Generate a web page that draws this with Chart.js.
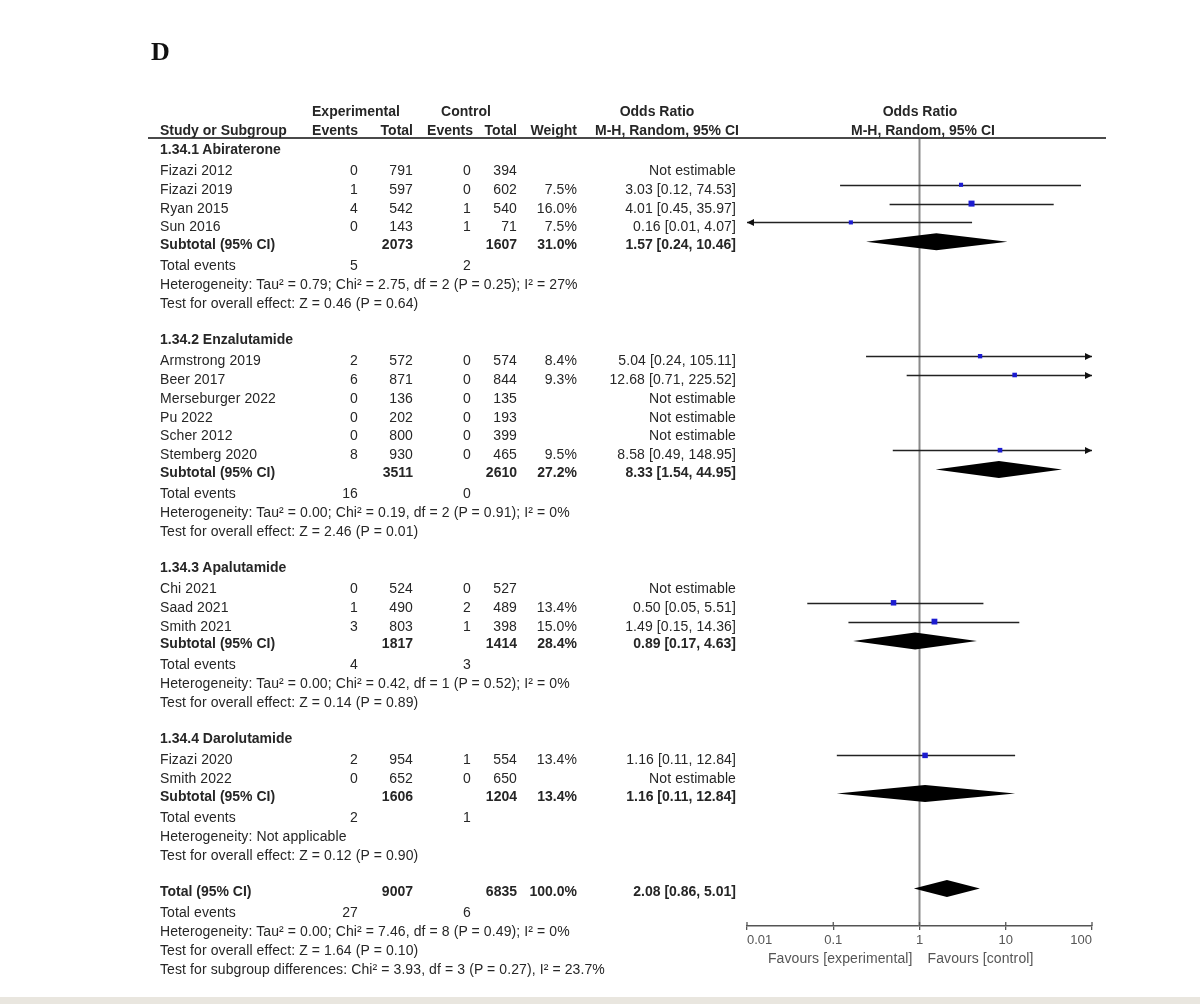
<!DOCTYPE html>
<html>
<head>
<meta charset="utf-8">
<script src="https://cdn.jsdelivr.net/npm/chart.js@4.4.0/dist/chart.umd.min.js"></script>
<style>
  html, body { margin: 0; padding: 0; background: #fff; }
  #page { position: relative; width: 1200px; height: 1004px; overflow: hidden;
          font-family: 'Liberation Sans', Arial, sans-serif; font-size: 14px; color: #262626; }
  #plot { position: absolute; left: 0; top: 0; }
  .t { position: absolute; line-height: 16px; white-space: nowrap; letter-spacing: 0.1px; }
  .b { font-weight: bold; letter-spacing: 0; }
  .g { color: #555; }
  #rule { position: absolute; left: 148px; top: 137px; width: 958px; border-top: 2px solid #4a4a4a; }
  #panel { position: absolute; left: 151px; top: 37px; font-family: 'Liberation Serif', serif;
           font-weight: bold; font-size: 26px; color: #111; }
  #band { position: absolute; left: 0; top: 997px; width: 1200px; height: 7px; background: #e9e6df; }
</style>
</head>
<body>
<div id="page">
  <canvas id="plot" width="1200" height="1004"></canvas>
  <div id="rule"></div>
  <div id="panel">D</div>
  <div id="band"></div>
</div>
<script>
// Dados
const groupLabels = ['1.34.1 Abiraterone', '1.34.2 Enzalutamide', '1.34.3 Apalutamide', '1.34.4 Darolutamide'];
const studyGroup = [0, 0, 0, 0, 1, 1, 1, 1, 1, 1, 2, 2, 2, 3, 3];
const studyNames = ['Fizazi 2012', 'Fizazi 2019', 'Ryan 2015', 'Sun 2016',
    'Armstrong 2019', 'Beer 2017', 'Merseburger 2022', 'Pu 2022', 'Scher 2012', 'Stemberg 2020',
    'Chi 2021', 'Saad 2021', 'Smith 2021', 'Fizazi 2020', 'Smith 2022'];
const expEvents = [0, 1, 4, 0, 2, 6, 0, 0, 0, 8, 0, 1, 3, 2, 0];
const expTotal = [791, 597, 542, 143, 572, 871, 136, 202, 800, 930, 524, 490, 803, 954, 652];
const ctlEvents = [0, 0, 1, 1, 0, 0, 0, 0, 0, 0, 0, 2, 1, 1, 0];
const ctlTotal = [394, 602, 540, 71, 574, 844, 135, 193, 399, 465, 527, 489, 398, 554, 650];
const weights = [null, 7.5, 16.0, 7.5, 8.4, 9.3, null, null, null, 9.5, null, 13.4, 15.0, 13.4, null];
const orEst = [null, 3.03, 4.01, 0.16, 5.04, 12.68, null, null, null, 8.58, null, 0.50, 1.49, 1.16, null];
const orLow = [null, 0.12, 0.45, 0.01, 0.24, 0.71, null, null, null, 0.49, null, 0.05, 0.15, 0.11, null];
const orHigh = [null, 74.53, 35.97, 4.07, 105.11, 225.52, null, null, null, 148.95, null, 5.51, 14.36, 12.84, null];

const subExpEvents = [5, 16, 4, 2];
const subCtlEvents = [2, 0, 3, 1];
const subExpTotal = [2073, 3511, 1817, 1606];
const subCtlTotal = [1607, 2610, 1414, 1204];
const subWeight = [31.0, 27.2, 28.4, 13.4];
const subEst = [1.57, 8.33, 0.89, 1.16];
const subLow = [0.24, 1.54, 0.17, 0.11];
const subHigh = [10.46, 44.95, 4.63, 12.84];
const subHet = [
    'Heterogeneity: Tau² = 0.79; Chi² = 2.75, df = 2 (P = 0.25); I² = 27%',
    'Heterogeneity: Tau² = 0.00; Chi² = 0.19, df = 2 (P = 0.91); I² = 0%',
    'Heterogeneity: Tau² = 0.00; Chi² = 0.42, df = 1 (P = 0.52); I² = 0%',
    'Heterogeneity: Not applicable'];
const subTest = [
    'Test for overall effect: Z = 0.46 (P = 0.64)',
    'Test for overall effect: Z = 2.46 (P = 0.01)',
    'Test for overall effect: Z = 0.14 (P = 0.89)',
    'Test for overall effect: Z = 0.12 (P = 0.90)'];

const totalEvents = [27, 6];
const totalN = [9007, 6835];
const totalWeight = 100.0;
const totalOR = [2.08, 0.86, 5.01];
const totalHet = 'Heterogeneity: Tau² = 0.00; Chi² = 7.46, df = 8 (P = 0.49); I² = 0%';
const totalTest = 'Test for overall effect: Z = 1.64 (P = 0.10)';
const subgroupTest = 'Test for subgroup differences: Chi² = 3.93, df = 3 (P = 0.27), I² = 23.7%';

const xTicks = [0.01, 0.1, 1, 10, 100];
const xTickLabels = ['0.01', '0.1', '1', '10', '100'];
const favourLabels = ['Favours [experimental]', 'Favours [control]'];

// Layout
const COL = { name: 160, expEv: 358, expTot: 413, ctlEv: 471, ctlTot: 517, weight: 577, or: 736 };
const FIRST_HEADER_Y = 148.5, HEADER_TO_STUDY = 21.5, STUDY_STEP = 18.8, STUDY_TO_SUB = 17.3;
const SUB_TO_EVENTS = 21, HET_STEP = 19.3, TEST_STEP = 18.7, GROUP_GAP = 36;
const STUDY_MARK_DY = -4, DIAMOND_DY = -2, DIAMOND_HALF = 8.5;

const page = document.getElementById('page');

function txt(s, x, y, align, cls) {
    const d = document.createElement('div');
    d.className = 't' + (cls ? ' ' + cls : '');
    d.textContent = s;
    d.style.top = (y - 8) + 'px';
    if (align === 'right') {
        d.style.right = (1200 - x) + 'px';
    } else if (align === 'center') {
        d.style.left = (x - 200) + 'px';
        d.style.width = '400px';
        d.style.textAlign = 'center';
    } else {
        d.style.left = x + 'px';
    }
    page.appendChild(d);
}

function fmtOR(e, l, h) {
    return e.toFixed(2) + ' [' + l.toFixed(2) + ', ' + h.toFixed(2) + ']';
}

// Cabeçalho
txt('Experimental', 356, 111, 'center', 'b');
txt('Control', 466, 111, 'center', 'b');
txt('Odds Ratio', 657, 111, 'center', 'b');
txt('Odds Ratio', 920, 111, 'center', 'b');
txt('Study or Subgroup', COL.name, 130, 'left', 'b');
txt('Events', COL.expEv, 130, 'right', 'b');
txt('Total', COL.expTot, 130, 'right', 'b');
txt('Events', 473, 130, 'right', 'b');
txt('Total', COL.ctlTot, 130, 'right', 'b');
txt('Weight', COL.weight, 130, 'right', 'b');
txt('M-H, Random, 95% CI', 667, 130, 'center', 'b');
txt('M-H, Random, 95% CI', 923, 130, 'center', 'b');

// Linhas da tabela
const studyRows = [];
const diamondRows = [];
let y = FIRST_HEADER_Y;
groupLabels.forEach((label, gi) => {
    txt(label, COL.name, y, 'left', 'b');
    const idx = studyNames.map((_, i) => i).filter(i => studyGroup[i] === gi);
    y += HEADER_TO_STUDY;
    idx.forEach((si, k) => {
        if (k) y += STUDY_STEP;
        studyRows.push({ si, y });
        txt(studyNames[si], COL.name, y, 'left');
        txt(String(expEvents[si]), COL.expEv, y, 'right');
        txt(String(expTotal[si]), COL.expTot, y, 'right');
        txt(String(ctlEvents[si]), COL.ctlEv, y, 'right');
        txt(String(ctlTotal[si]), COL.ctlTot, y, 'right');
        if (weights[si] != null) txt(weights[si].toFixed(1) + '%', COL.weight, y, 'right');
        txt(orEst[si] != null ? fmtOR(orEst[si], orLow[si], orHigh[si]) : 'Not estimable', COL.or, y, 'right');
    });
    y += STUDY_TO_SUB;
    diamondRows.push({ e: subEst[gi], l: subLow[gi], h: subHigh[gi], y });
    txt('Subtotal (95% CI)', COL.name, y, 'left', 'b');
    txt(String(subExpTotal[gi]), COL.expTot, y, 'right', 'b');
    txt(String(subCtlTotal[gi]), COL.ctlTot, y, 'right', 'b');
    txt(subWeight[gi].toFixed(1) + '%', COL.weight, y, 'right', 'b');
    txt(fmtOR(subEst[gi], subLow[gi], subHigh[gi]), COL.or, y, 'right', 'b');
    y += SUB_TO_EVENTS;
    txt('Total events', COL.name, y, 'left');
    txt(String(subExpEvents[gi]), COL.expEv, y, 'right');
    txt(String(subCtlEvents[gi]), COL.ctlEv, y, 'right');
    y += HET_STEP;
    txt(subHet[gi], COL.name, y, 'left');
    y += TEST_STEP;
    txt(subTest[gi], COL.name, y, 'left');
    y += GROUP_GAP;
});

// Total geral
diamondRows.push({ e: totalOR[0], l: totalOR[1], h: totalOR[2], y });
txt('Total (95% CI)', COL.name, y, 'left', 'b');
txt(String(totalN[0]), COL.expTot, y, 'right', 'b');
txt(String(totalN[1]), COL.ctlTot, y, 'right', 'b');
txt(totalWeight.toFixed(1) + '%', COL.weight, y, 'right', 'b');
txt(fmtOR(totalOR[0], totalOR[1], totalOR[2]), COL.or, y, 'right', 'b');
y += SUB_TO_EVENTS;
txt('Total events', COL.name, y, 'left');
txt(String(totalEvents[0]), COL.expEv, y, 'right');
txt(String(totalEvents[1]), COL.ctlEv, y, 'right');
y += HET_STEP;
txt(totalHet, COL.name, y, 'left');
y += TEST_STEP;
txt(totalTest, COL.name, y, 'left');
y += 19;
txt(subgroupTest, COL.name, y, 'left');

// Plugin do forest plot: linha nula, ICs, setas e diamantes
function arrowHead(ctx, x, y, dir) {
    ctx.beginPath();
    ctx.moveTo(x, y);
    ctx.lineTo(x - dir * 7, y - 3.5);
    ctx.lineTo(x - dir * 7, y + 3.5);
    ctx.closePath();
    ctx.fill();
}

const forestPlugin = {
    id: 'forest',
    beforeDatasetsDraw(chart) {
        const { ctx, chartArea, scales } = chart;
        const xs = scales.x, ys = scales.y;
        ctx.save();
        const x1 = xs.getPixelForValue(1);
        ctx.strokeStyle = '#8a8a8a';
        ctx.lineWidth = 2;
        ctx.beginPath();
        ctx.moveTo(x1, chartArea.top);
        ctx.lineTo(x1, chartArea.bottom);
        ctx.stroke();

        ctx.strokeStyle = '#222';
        ctx.fillStyle = '#111';
        ctx.lineWidth = 1.3;
        studyRows.forEach(r => {
            const i = r.si;
            if (orEst[i] == null) return;
            const py = Math.round(ys.getPixelForValue(r.y + STUDY_MARK_DY)) + 0.5;
            const a = xs.getPixelForValue(Math.max(orLow[i], xs.min));
            const b = xs.getPixelForValue(Math.min(orHigh[i], xs.max));
            ctx.beginPath();
            ctx.moveTo(a, py);
            ctx.lineTo(b, py);
            ctx.stroke();
            if (orLow[i] <= xs.min) arrowHead(ctx, a, py, -1);
            if (orHigh[i] >= xs.max) arrowHead(ctx, b, py, 1);
        });

        ctx.fillStyle = '#000';
        diamondRows.forEach(d => {
            const py = ys.getPixelForValue(d.y + DIAMOND_DY);
            ctx.beginPath();
            ctx.moveTo(xs.getPixelForValue(d.l), py);
            ctx.lineTo(xs.getPixelForValue(d.e), py - DIAMOND_HALF);
            ctx.lineTo(xs.getPixelForValue(d.h), py);
            ctx.lineTo(xs.getPixelForValue(d.e), py + DIAMOND_HALF);
            ctx.closePath();
            ctx.fill();
        });
        ctx.restore();
    },
    afterDraw(chart) {
        // marcas do eixo acima da linha
        const { ctx, chartArea, scales } = chart;
        ctx.save();
        ctx.strokeStyle = '#555';
        ctx.lineWidth = 1.3;
        xTicks.forEach(v => {
            const px = scales.x.getPixelForValue(v);
            ctx.beginPath();
            ctx.moveTo(px, chartArea.bottom - 4);
            ctx.lineTo(px, chartArea.bottom);
            ctx.stroke();
        });
        ctx.restore();
    }
};

const squares = studyRows.filter(r => orEst[r.si] != null).map(r => ({
    x: orEst[r.si],
    y: r.y + STUDY_MARK_DY,
    w: weights[r.si]
}));

const chart = new Chart(document.getElementById('plot'), {
    type: 'scatter',
    data: {
        datasets: [{
            label: 'Studies',
            data: squares,
            pointStyle: 'rect',
            backgroundColor: '#1c1cd0',
            borderColor: '#1c1cd0',
            borderWidth: 0,
            pointRadius: squares.map(p => 1.5 * Math.sqrt(p.w) / 1.414)
        }]
    },
    options: {
        responsive: false,
        animation: false,
        events: [],
        layout: { padding: { left: 747, right: 108, top: 138, bottom: 58 } },
        scales: {
            x: {
                type: 'logarithmic',
                min: 0.01,
                max: 100,
                afterBuildTicks: s => { s.ticks = xTicks.map(v => ({ value: v })); },
                afterFit: s => { s.height = 20; },
                ticks: {
                    callback: (v, i) => xTickLabels[i],
                    align: 'inner',
                    autoSkip: false,
                    maxRotation: 0,
                    padding: 3,
                    color: '#555',
                    font: { family: 'Liberation Sans', size: 13 }
                },
                grid: { drawOnChartArea: false, drawTicks: true, tickLength: 4, color: '#555', lineWidth: 1.3 },
                border: { display: true, color: '#555', width: 1.5 }
            },
            y: { type: 'linear', reverse: true, min: 138, max: 926, display: false }
        },
        plugins: { legend: { display: false }, tooltip: { enabled: false } }
    },
    plugins: [forestPlugin]
});

// Rótulos "Favours"
const xOne = chart.scales.x.getPixelForValue(1);
txt(favourLabels[0], xOne - 7, 958, 'right', 'g');
txt(favourLabels[1], xOne + 8, 958, 'left', 'g');
</script>
</body>
</html>
